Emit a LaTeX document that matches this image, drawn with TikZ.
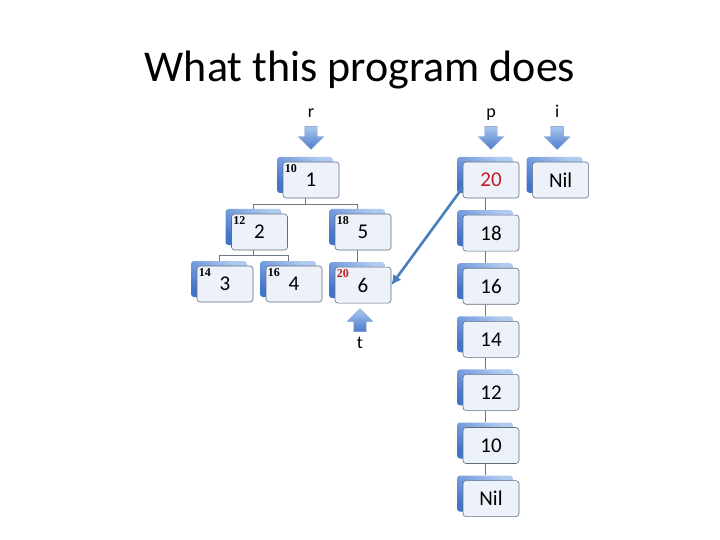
\documentclass[tikz,border=0pt]{standalone}
\usepackage{fontspec}
\setmainfont{Carlito}
\newfontfamily\keyfont{Liberation Serif}
\usepackage{xcolor}
\usepackage{tikz}
\usetikzlibrary{shapes.arrows,arrows.meta,positioning,shadows,backgrounds}

\definecolor{cardline}{RGB}{96,110,128}
\definecolor{cardfill}{RGB}{237,242,250}
\definecolor{backlight}{RGB}{176,202,240}
\definecolor{backdark}{RGB}{66,116,204}
\definecolor{ptrlight}{RGB}{170,198,238}
\definecolor{ptrdark}{RGB}{76,124,204}
\definecolor{ptrline}{RGB}{120,150,200}
\definecolor{linkblue}{RGB}{74,126,187}
\definecolor{treeline}{RGB}{110,120,132}
\definecolor{keyred}{RGB}{200,24,32}

\begin{document}
\begin{tikzpicture}[
    x=1pt, y=-1pt,
    node distance=16.5pt and 13pt,
    >={Latex[length=10pt, width=10pt]},
    card/.style={
        rectangle, draw=cardline, fill=cardfill, line width=0.6pt,
        rounded corners=3pt,
        minimum width=56pt, minimum height=36pt, inner sep=0pt,
        font=\fontsize{21}{21}\selectfont,
        general shadow={shadow xshift=-6pt, shadow yshift=5pt,
            top color=backlight, bottom color=backdark, shading angle=-35}
    },
    keylabel/.style={
        anchor=north west, inner sep=0pt, xshift=2pt, yshift=-3pt,
        font=\keyfont\bfseries\fontsize{12}{12}\selectfont
    },
    key/.style={label={[keylabel]north west:#1}},
    ptr/.style={
        single arrow, shape border rotate=270,
        minimum height=23pt, minimum width=25pt,
        single arrow head extend=6.5pt, single arrow head indent=0pt,
        inner sep=6pt, draw=ptrline, line width=0.4pt,
        top color=ptrlight, bottom color=ptrdark
    },
    ptrup/.style={ptr, shape border rotate=90},
    lab/.style={font=\fontsize{18}{18}\selectfont, inner sep=1pt,
        text height=1.5ex, text depth=.25ex},
    tree/.style={draw=treeline, line width=0.7pt},
    link/.style={->, draw=linkblue, line width=2.6pt}
]
    \useasboundingbox (0,0) rectangle (720,540);

    % Title
    \node [font=\fontsize{44}{44}\selectfont, anchor=base] (title) at (360,82) {What this program does};

    % Tree
    \node [card, key=10] (n1) at (311,180) {1};
    \node [card, key=12] (n2) at (259.5,232) {2};
    \node [card, key=18] (n5) at (363,232) {5};
    \node [card, key=14] (n3) at (225,284) {3};
    \node [card, key=16] (n4) at (294,284) {4};
    \node [card, key={\textcolor{keyred}{20}}, below=of n5] (n6) {6};

    % List
    \node [card] (l20) at (491,180) {\textcolor{keyred}{20}};
    \node [card, below=of l20] (l18) {18};
    \node [card, below=of l18] (l16) {16};
    \node [card, below=of l16] (l14) {14};
    \node [card, below=of l14] (l12) {12};
    \node [card, below=of l12] (l10) {10};
    \node [card, below=of l10] (lnil) {Nil};
    \node [card, right=of l20] (inil) {Nil};

    % Pointers
    \node [ptr, above=12pt of n1] (rptr) {};
    \node [lab, above=6pt of rptr] (rlab) {r};
    \node [ptr, above=12pt of l20] (pptr) {};
    \node [lab, above=6pt of pptr] (plab) {p};
    \node [ptr, above=12pt of inil, xshift=-3.5pt] (iptr) {};
    \node [lab, above=6pt of iptr] (ilab) {i};
    \node [ptrup, below=5pt of n6, xshift=-3pt] (tptr) {};
    \node [lab, below=8pt of tptr] (tlab) {t};

    % Connectors
    \begin{scope}[on background layer]
        \draw [tree] ([xshift=-6pt]n1.south) -- ++(0,6) -| ([xshift=-6pt,yshift=5pt]n2.north);
        \draw [tree] ([xshift=-6pt]n1.south) -- ++(0,6) -| ([xshift=-6pt,yshift=5pt]n5.north);
        \draw [tree] ([xshift=-6pt]n2.south) -- ++(0,5) -| ([xshift=-6pt,yshift=5pt]n3.north);
        \draw [tree] ([xshift=-6pt]n2.south) -- ++(0,5) -| ([xshift=-6pt,yshift=5pt]n4.north);
        \draw [tree] ([xshift=-6pt]n5.south) -- ([xshift=-6pt,yshift=5pt]n6.north);
        \foreach \a/\b in {l20/l18, l18/l16, l16/l14, l14/l12, l12/l10, l10/lnil}
            \draw [tree] ([xshift=-6pt]\a.south) -- ([xshift=-6pt,yshift=5pt]\b.north);
    \end{scope}

    \draw [link] (l20.195) -- (n6.east);

\end{tikzpicture}
\end{document}
